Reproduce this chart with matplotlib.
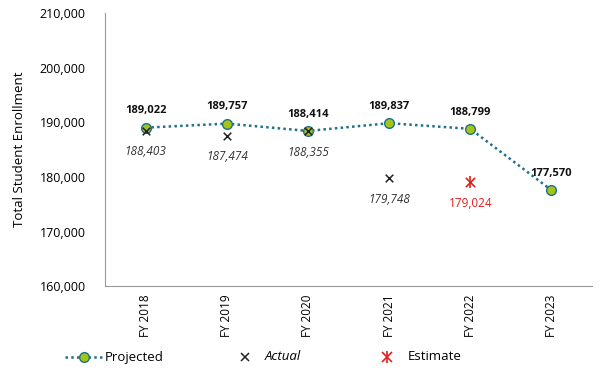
import matplotlib
matplotlib.use("Agg")
import matplotlib.pyplot as plt
from matplotlib.lines import Line2D
from matplotlib.ticker import FuncFormatter

plt.rcParams['font.family'] = ['Open Sans', 'DejaVu Sans']

# data
years = ["FY 2018", "FY 2019", "FY 2020", "FY 2021", "FY 2022", "FY 2023"]
projected = [189022, 189757, 188414, 189837, 188799, 177570]
actual_idx = [0, 1, 2, 3]
actual = [188403, 187474, 188355, 179748]
estimate_idx = [4]
estimate = [179024]

line_col = '#1f7189'
face_col = '#a3c41a'
red = '#e0201b'
dots = (0, (1, 1.3))

fig = plt.figure(figsize=(6.11, 3.74), dpi=100)
ax = fig.add_axes([0.172, 0.235, 0.797, 0.730])

x = list(range(len(years)))
ax.plot(x, projected, linestyle=dots, color=line_col, linewidth=1.8,
        marker='o', markersize=7, markerfacecolor=face_col, markeredgecolor=line_col,
        markeredgewidth=1, zorder=3)
ax.scatter(actual_idx, actual, marker='x', color='#222222', s=30, linewidths=1.1, zorder=4)
ax.scatter(estimate_idx, estimate, marker='x', color=red, s=45, linewidths=1.2, zorder=4)
ax.scatter(estimate_idx, estimate, marker='|', color=red, s=70, linewidths=1.2, zorder=4)

# labels
for i, v in enumerate(projected):
    ax.annotate(f"{v:,}", (i, v), xytext=(0, 12), textcoords='offset points',
                ha='center', va='center', fontsize=8, fontweight='bold', color='#111111')
for i, v in zip(actual_idx, actual):
    ax.annotate(f"{v:,}", (i, v), xytext=(0, -15), textcoords='offset points',
                ha='center', va='center', fontsize=8.5, fontstyle='italic', color='#333333')
for i, v in zip(estimate_idx, estimate):
    ax.annotate(f"{v:,}", (i, v), xytext=(0, -15), textcoords='offset points',
                ha='center', va='center', fontsize=8.5, color=red)

ax.set_xlim(-0.5, len(years) - 0.5)
ax.set_ylim(160000, 210000)
ax.set_yticks(range(160000, 210001, 10000))
ax.yaxis.set_major_formatter(FuncFormatter(lambda v, p: f"{int(v):,}"))
ax.set_xticks(x)
ax.set_xticklabels(years, rotation=90, fontsize=8.5)
ax.tick_params(axis='y', labelsize=9, length=0, pad=14)
ax.tick_params(axis='x', length=0, pad=6)
for s in ['top', 'right']:
    ax.spines[s].set_visible(False)
ax.spines['left'].set_color('#999999')
ax.spines['bottom'].set_color('#999999')
ax.set_ylabel("Total Student Enrollment", fontsize=9.5, labelpad=10)

# legend drawn by hand in figure coords
ly = 1 - 357 / 374
fig.add_artist(Line2D([65 / 611, 102 / 611], [ly, ly], transform=fig.transFigure,
                      linestyle=dots, color=line_col, linewidth=1.8))
fig.add_artist(Line2D([83.5 / 611], [ly], transform=fig.transFigure, linestyle='none',
                      marker='o', markersize=7, markerfacecolor=face_col,
                      markeredgecolor=line_col, markeredgewidth=1))
fig.text(105 / 611, ly, "Projected", fontsize=9.5, va='center', ha='left')
fig.add_artist(Line2D([245 / 611], [ly], transform=fig.transFigure, linestyle='none',
                      marker='x', markersize=6, color='#222222', markeredgewidth=1.1))
fig.text(265 / 611, ly, "Actual", fontsize=9.5, va='center', ha='left', fontstyle='italic')
fig.add_artist(Line2D([387 / 611], [ly], transform=fig.transFigure, linestyle='none',
                      marker='x', markersize=6.5, color=red, markeredgewidth=1.2))
fig.add_artist(Line2D([387 / 611], [ly], transform=fig.transFigure, linestyle='none',
                      marker='|', markersize=8.5, color=red, markeredgewidth=1.2))
fig.text(408 / 611, ly, "Estimate", fontsize=9.5, va='center', ha='left')

fig.savefig("out.png", dpi=100)
